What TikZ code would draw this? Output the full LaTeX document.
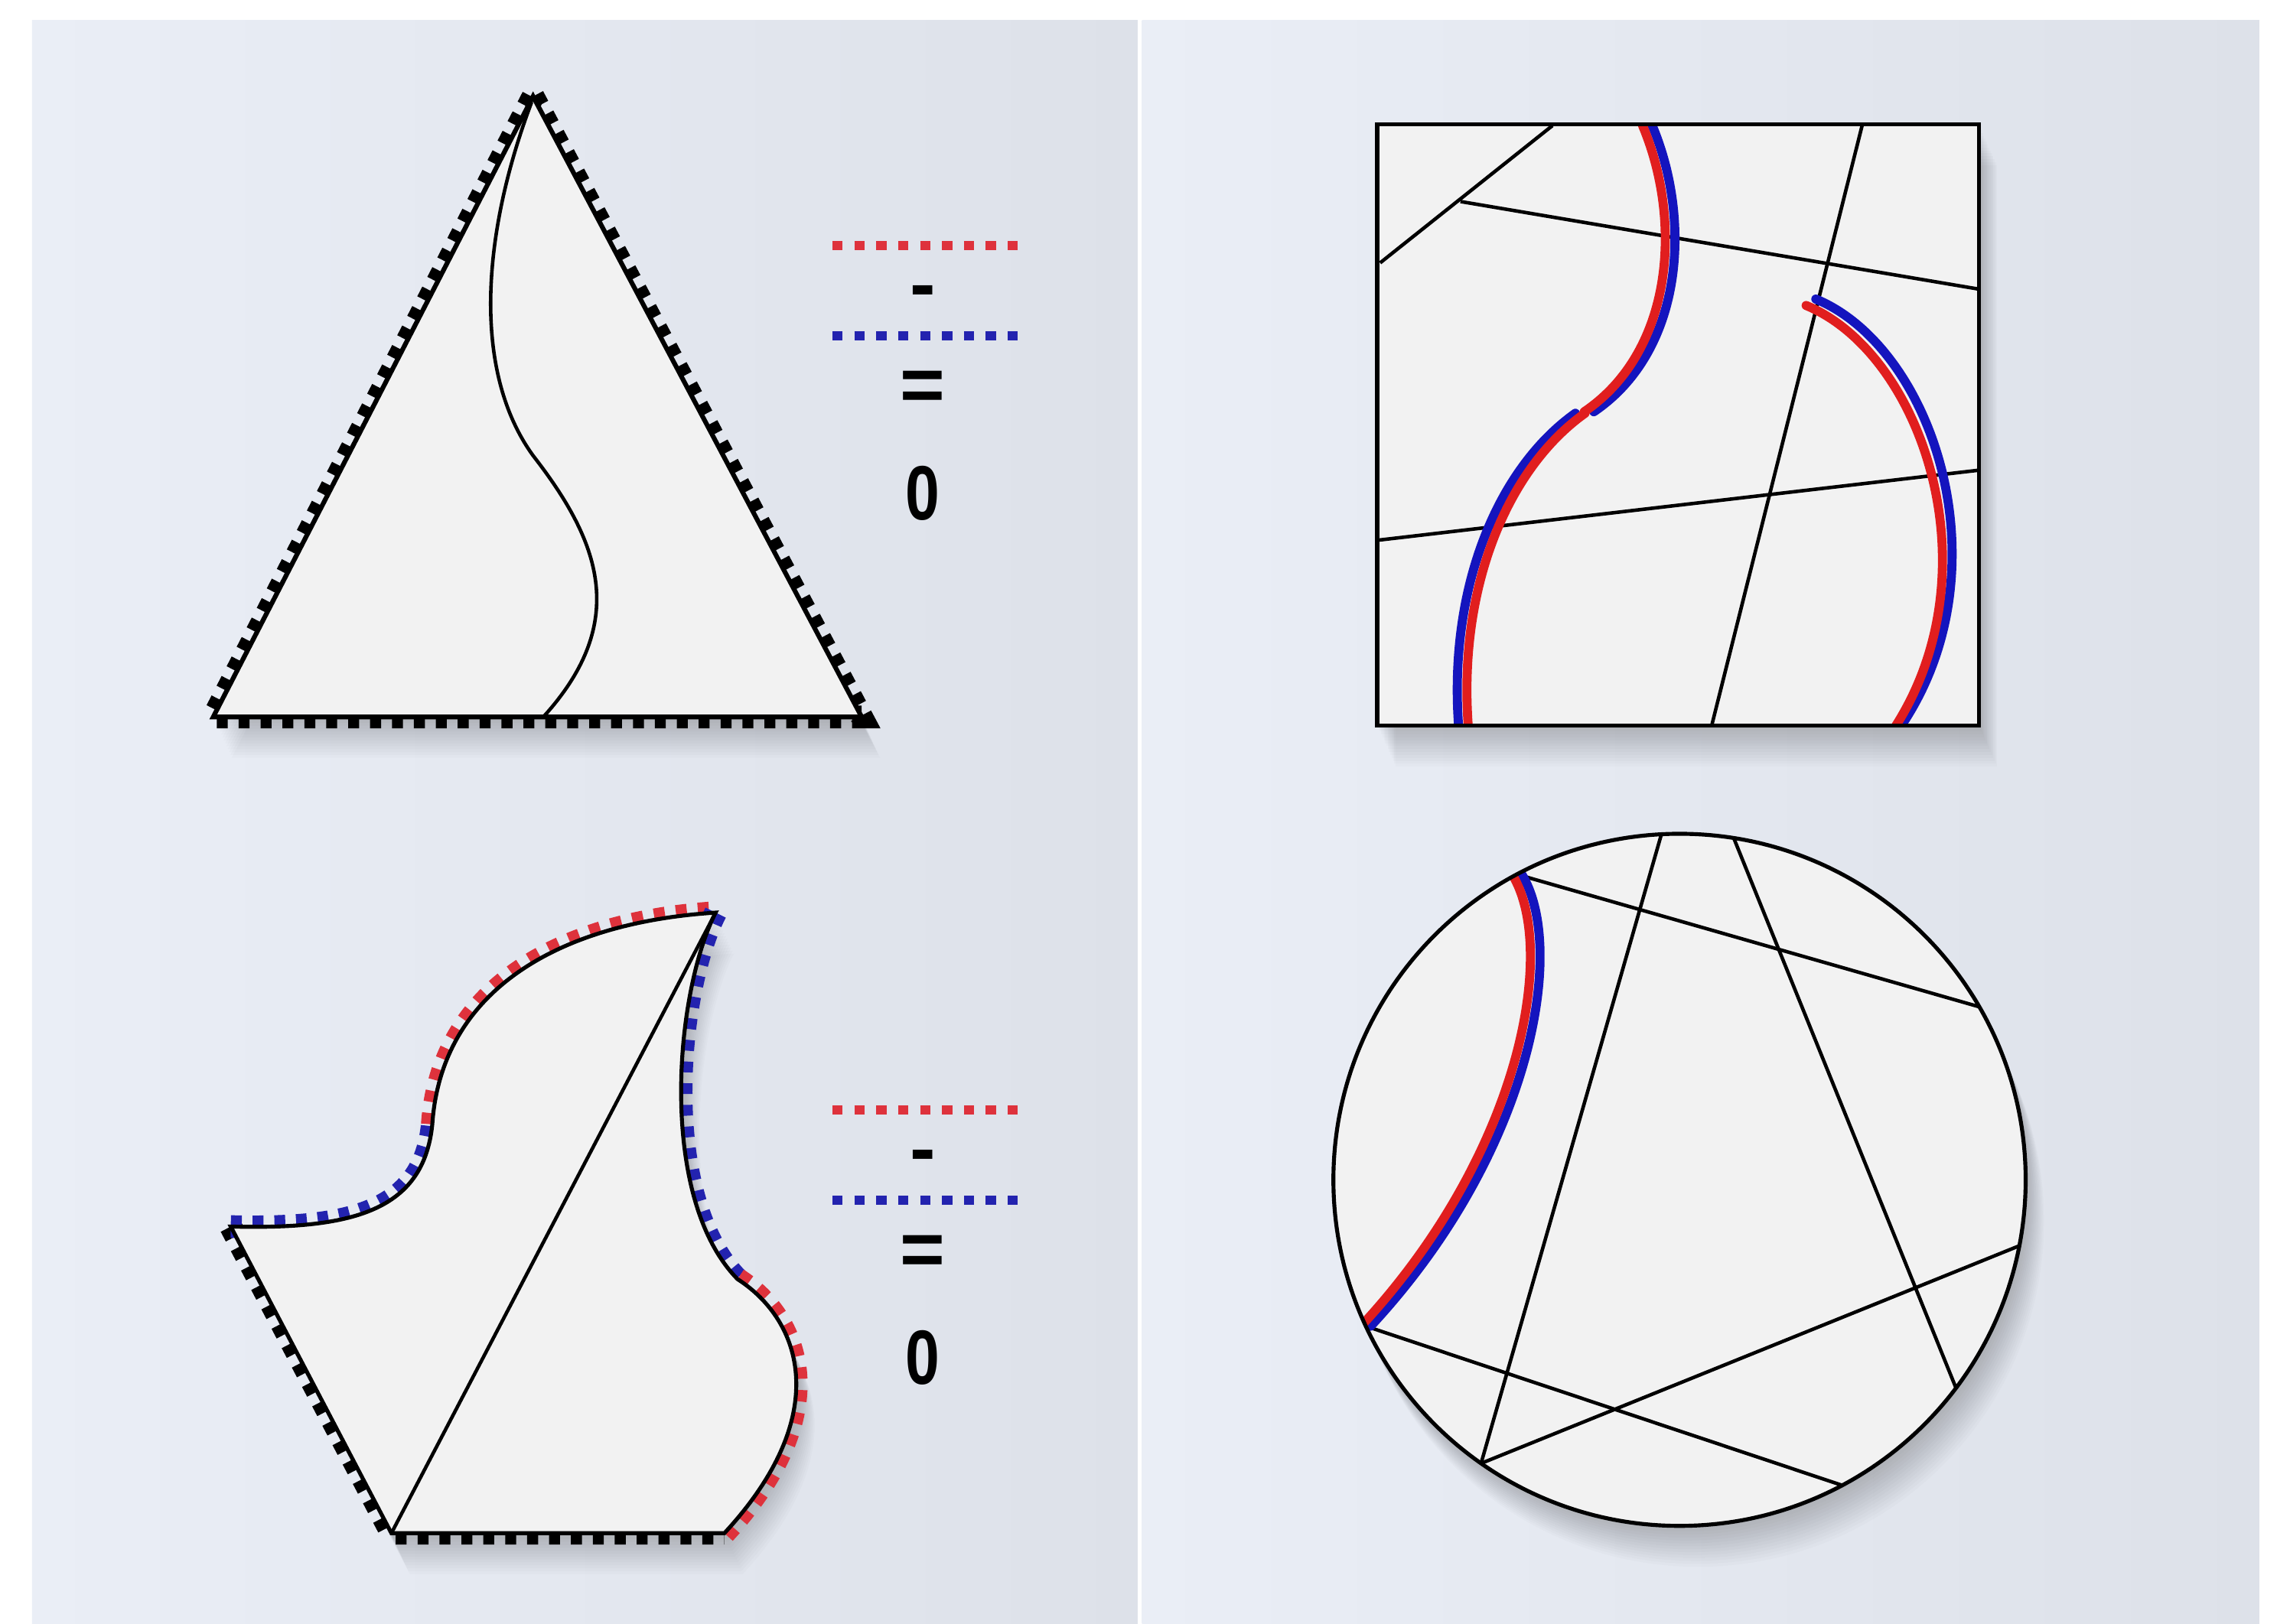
\documentclass[tikz,border=0pt]{standalone}
\usepackage{fontspec}
\usepackage{graphicx}
\newfontfamily\lblfont{Liberation Sans}
\definecolor{bgL}{RGB}{234,238,246}
\definecolor{bgR}{RGB}{221,225,233}
\definecolor{shp}{RGB}{242,242,242}
\definecolor{rd}{RGB}{225,30,30}
\definecolor{bl}{RGB}{20,20,190}
\definecolor{rdt}{RGB}{222,50,60}
\definecolor{blt}{RGB}{35,35,175}
\tikzset{
  outline/.style={line width=0.32mm, black, line join=miter},
  teeth/.style={line width=1.55mm, dash pattern=on 0.75mm off 0.75mm},
  chord/.style={line width=0.24mm, black},
  fat/.style={line width=0.62mm, line cap=round},
  legendline/.style={line width=0.65mm, dash pattern=on 0.7mm off 0.8mm},
  sym/.style={font=\lblfont\bfseries\fontsize{15}{15}\selectfont, inner sep=0pt},
}
\def\triP{(365,66) -- (590,491) -- (146,491) -- cycle}
\def\sqP{(943,85) rectangle (1355,497)}
\def\ciP{(1150,808) circle [x radius=23.7mm, y radius=23.7mm]}
\def\blP{(158,840) .. controls (240,842) and (290,830) .. (296,770) .. controls (302,680) and (380,632) .. (490,625) .. controls (462,680) and (450,820) .. (505,876) .. controls (550,905) and (570,970) .. (496,1050) -- (268,1050) -- cycle}
\newcommand\softshadow[1]{\foreach \s in {1,...,14}{\fill[black,opacity=0.016,shift={(\s*0.9,\s*2.0)}] #1;}}
\begin{document}
\begin{tikzpicture}[x=0.1mm,y=-0.1mm]
\useasboundingbox (0,0) rectangle (1568,1112);
% background
\fill[white] (0,0) rectangle (1568,1112);
\shade[left color=bgL, right color=bgR] (22,14) rectangle (779,1112);
\shade[left color=bgL, right color=bgR] (782,14) rectangle (1547,1112);

% ===== triangle =====
\softshadow{\triP}
\draw[teeth, black] \triP;
\fill[shp] \triP;
\draw[outline] \triP;
\draw[chord] (364,70) .. controls (330,160) and (323,254) .. (365,312) .. controls (410,370) and (432,425) .. (372,491);

% legend top
\draw[legendline, rdt] (570,168) -- (697,168);
\node[sym] (tminus) at (632,204) {-};
\draw[legendline, blt] (570,230) -- (697,230);
\node[sym] (teq) at (632,268) {=};
\node[sym] (tzero) at (632,338) {\scalebox{0.8}[1]{0}};

% ===== bottom-left shape =====
\softshadow{\blP}
\draw[teeth, black] (158,840) -- (268,1050) -- (496,1050);
\draw[teeth, blt] (158,840) .. controls (240,842) and (290,830) .. (296,770);
\draw[teeth, rdt] (296,770) .. controls (302,680) and (380,632) .. (490,625);
\draw[teeth, blt] (490,625) .. controls (462,680) and (450,820) .. (505,876);
\draw[teeth, rdt] (505,876) .. controls (550,905) and (570,970) .. (496,1050);
\fill[shp] \blP;
\draw[outline, line width=0.27mm] \blP;
\draw[chord] (268,1050) -- (490,625);

% legend bottom
\draw[legendline, rdt] (570,760) -- (697,760);
\node[sym] (bminus) at (632,796) {-};
\draw[legendline, blt] (570,822) -- (697,822);
\node[sym] (beq) at (632,860) {=};
\node[sym] (bzero) at (632,930) {\scalebox{0.8}[1]{0}};

% ===== square =====
\softshadow{\sqP}
\fill[shp] \sqP;
\draw[chord] (945,180) -- (1063,86);
\draw[chord] (1000,138) -- (1355,198);
\draw[chord] (1275,86) -- (1172,497);
\draw[chord] (943,370) -- (1355,322);
\begin{scope}
\clip \sqP;
\begin{scope}[shift={(3.3,0)}]
\draw[fat, bl] (1128,86) .. controls (1155,150) and (1150,240) .. (1088,282);
\end{scope}
\begin{scope}[shift={(-3.3,0)}]
\draw[fat, rd] (1128,86) .. controls (1155,150) and (1150,240) .. (1088,282);
\end{scope}
\begin{scope}[shift={(-3.3,0)}]
\draw[fat, bl] (1082,283) .. controls (1030,320) and (995,400) .. (1002,497);
\end{scope}
\begin{scope}[shift={(3.3,0)}]
\draw[fat, rd] (1082,283) .. controls (1030,320) and (995,400) .. (1002,497);
\end{scope}
\begin{scope}[shift={(3.3,-2.2)}]
\draw[fat, bl] (1240,207) .. controls (1320,240) and (1370,390) .. (1300,497);
\end{scope}
\begin{scope}[shift={(-3.3,2.2)}]
\draw[fat, rd] (1240,207) .. controls (1320,240) and (1370,390) .. (1300,497);
\end{scope}
\end{scope}
\draw[outline, line width=0.27mm] \sqP;

% ===== circle =====
\softshadow{\ciP}
\fill[shp] \ciP;
\draw[chord] (1137.6,571.3) -- (1014.1,1002.2);
\draw[chord] (1187.1,573.9) -- (1339.3,950.6);
\draw[chord] (1038.7,598.8) -- (1355.2,689.5);
\draw[chord] (935.2,908.2) -- (1261.3,1017.2);
\draw[chord] (1014.1,1002.2) -- (1382.6,853.2);
\begin{scope}
\clip \ciP;
\begin{scope}[shift={(3.3,0)}]
\draw[fat, bl] (1038.7,598.8) .. controls (1070,650) and (1045,790) .. (935.2,908.2);
\end{scope}
\begin{scope}[shift={(-3.3,0)}]
\draw[fat, rd] (1038.7,598.8) .. controls (1070,650) and (1045,790) .. (935.2,908.2);
\end{scope}
\end{scope}
\draw[outline, line width=0.27mm] \ciP;
\end{tikzpicture}
\end{document}
